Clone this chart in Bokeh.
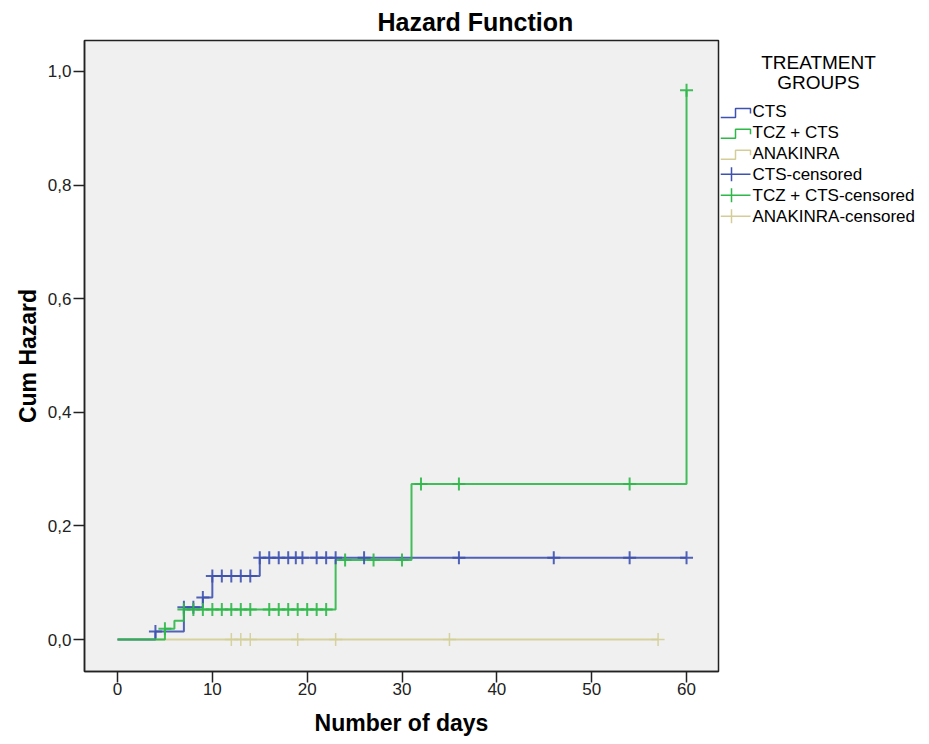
import numpy as np
from bokeh.plotting import figure
from bokeh.models import Range1d, FixedTicker, CustomJSTickFormatter
from bokeh.layouts import row
from bokeh.embed import file_html
from bokeh.resources import INLINE
from bokeh.core.properties import value

# ---------------- data ----------------
groups = ["CTS", "TCZ + CTS", "ANAKINRA"]
legend_labels = ["CTS", "TCZ + CTS", "ANAKINRA",
                 "CTS-censored", "TCZ + CTS-censored", "ANAKINRA-censored"]
colors = ["#3E52B0", "#2EB848", "#D3CE97"]

cts_time = [0, 4, 7, 9, 10, 15, 60]
cts_hazard = [0.0, 0.014, 0.057, 0.074, 0.112, 0.144, 0.144]
cts_censored = [4, 7, 8, 9, 10, 11, 12, 13, 14, 15, 16, 17, 18, 18.8, 19.5,
                21, 22, 23, 26, 36, 46, 54, 60]

tcz_time = [0, 5, 6, 7, 23, 31, 60]
tcz_hazard = [0.0, 0.019, 0.033, 0.053, 0.140, 0.274, 0.967]
tcz_censored = [5, 7, 8, 9, 10, 11, 12, 13, 14, 16, 17, 18, 19, 20, 21, 22,
                24, 27, 30, 32, 36, 54, 60]

ana_time = [0, 57]
ana_hazard = [0.0, 0.0]
ana_censored = [12, 13, 14, 19, 23, 35, 57]

x_ticks = [0, 10, 20, 30, 40, 50, 60]
y_ticks = [0.0, 0.2, 0.4, 0.6, 0.8, 1.0]

FONT = "Liberation Sans"


def level(times, hz, t):
    idx = np.searchsorted(np.asarray(times, dtype=float), np.asarray(t, dtype=float), side="right") - 1
    return list(np.asarray(hz)[idx])


H = 744
# ---------------- main plot ----------------
p = figure(width=720, height=H,
           x_range=Range1d(-3.48, 63.37), y_range=Range1d(-0.0562, 1.0545),
           output_backend="svg", toolbar_location=None,
           min_border_left=84, min_border_top=39, min_border_right=2,
           min_border_bottom=H - 671,
           background_fill_color="#F0F0F0", border_fill_color="white",
           outline_line_color="#222222", outline_line_width=1.5)

p.title.text = "Hazard Function"
p.title.align = "left"
p.title.offset = 293
p.title.text_font = FONT
p.title.text_font_size = "25px"
p.title.text_font_style = "bold"
p.title.text_color = "black"

p.xgrid.visible = False
p.ygrid.visible = False

series = [
    (cts_time, cts_hazard, cts_censored, colors[0]),
    (tcz_time, tcz_hazard, tcz_censored, colors[1]),
    (ana_time, ana_hazard, ana_censored, colors[2]),
]
# draw anakinra first, then CTS, then TCZ on top
for idx in [2, 0, 1]:
    t, h, c, col = series[idx]
    p.step(t, h, mode="after", line_color=col, line_width=2, line_alpha=0.9)
for idx in [2, 0, 1]:
    t, h, c, col = series[idx]
    p.scatter(c, level(t, h, c), marker="cross", size=13, line_color=col,
              line_width=2 if idx != 2 else 1.5, line_alpha=0.9)

for ax in (p.xaxis[0], p.yaxis[0]):
    ax.axis_line_color = "#222222"
    ax.axis_line_width = 1.5
    ax.major_tick_line_color = "#222222"
    ax.major_tick_line_width = 1.5
    ax.major_tick_out = 11
    ax.major_tick_in = 0
    ax.minor_tick_out = 0
    ax.minor_tick_in = 0
    ax.major_label_text_font = FONT
    ax.major_label_text_font_size = "17px"
    ax.major_label_text_color = "#222222"
    ax.axis_label_text_font = FONT
    ax.axis_label_text_font_size = "23px"
    ax.axis_label_text_font_style = "bold"
    ax.axis_label_text_color = "black"

p.xaxis[0].ticker = FixedTicker(ticks=x_ticks)
p.xaxis[0].axis_label = "Number of days"
p.xaxis[0].major_label_standoff = 0
p.xaxis[0].axis_label_standoff = 12

p.yaxis[0].ticker = FixedTicker(ticks=y_ticks)
p.yaxis[0].formatter = CustomJSTickFormatter(code="return tick.toFixed(1).replace('.', ',');")
p.yaxis[0].axis_label = "Cum Hazard"
p.yaxis[0].major_label_standoff = 2
p.yaxis[0].axis_label_standoff = 4

# ---------------- legend panel ----------------
# frames of figures in a row are aligned, so this panel's frame spans the
# same vertical extent as the main plot frame (screen y 39..671)
lf = figure(width=205, height=H, x_range=Range1d(720, 925), y_range=Range1d(671, 39),
            output_backend="svg", toolbar_location=None, x_axis_type=None, y_axis_type=None,
            min_border=0, outline_line_color=None, background_fill_color="white",
            border_fill_color="white")
lf.xgrid.visible = False
lf.ygrid.visible = False

lf.text(x=[818, 818], y=[61, 81], text=["TREATMENT", "GROUPS"],
        text_font=value(FONT), text_font_size="19px", text_align="center",
        text_baseline="middle", text_color="black")

item_y0 = 110
item_dy = 21
icon_colors = colors + colors
for i, lab in enumerate(legend_labels):
    cy = item_y0 + i * item_dy
    col = icon_colors[i]
    if i < 3:
        lf.line([720, 735, 735, 750, 750], [cy + 6, cy + 6, cy - 3, cy - 3, cy + 2],
                line_color=col, line_width=1.5)
    else:
        lf.line([720, 750], [cy, cy], line_color=col, line_width=1.5)
        lf.line([731, 731], [cy - 7, cy + 7], line_color=col, line_width=1.5)
    lf.text(x=[752], y=[cy], text=[lab], text_font=value(FONT), text_font_size="17px",
            text_align="left", text_baseline="middle", text_color="black")

layout = row(p, lf)
open("out.html", "w").write(file_html(layout, INLINE))
